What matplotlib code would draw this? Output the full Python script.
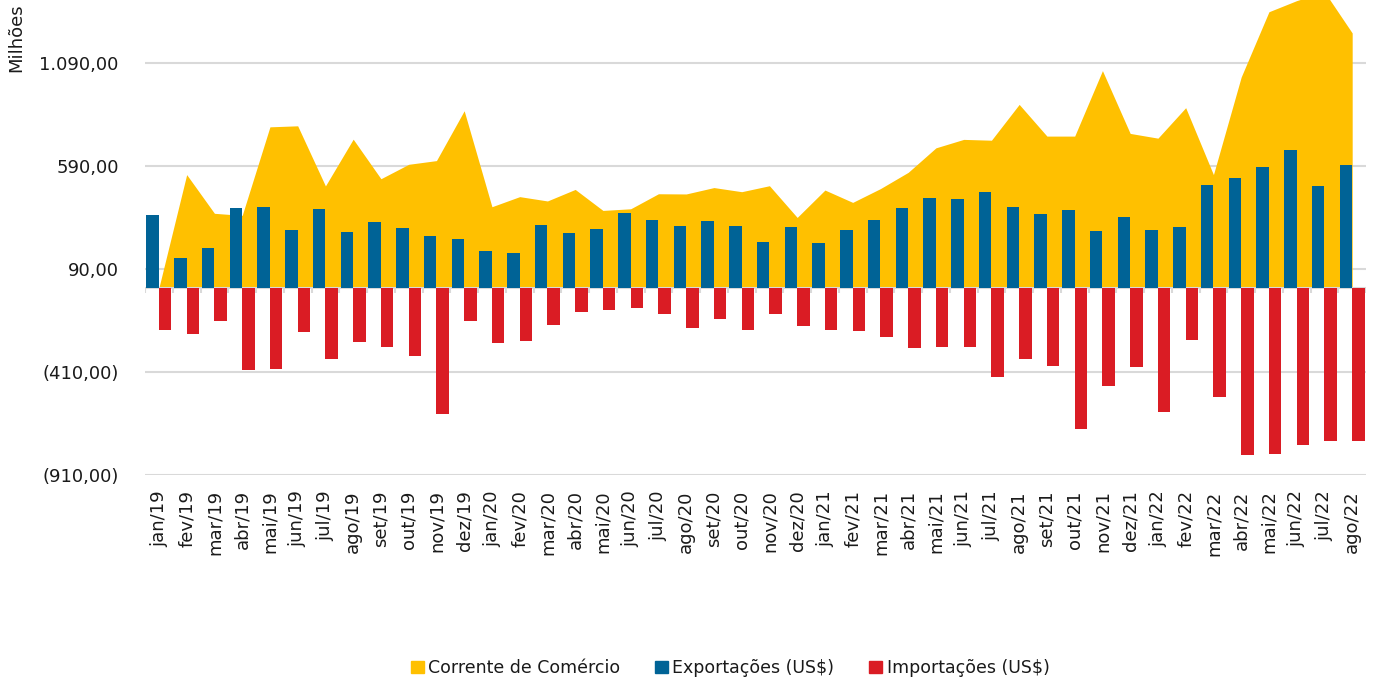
import matplotlib
matplotlib.use("Agg")
import matplotlib.pyplot as plt
import numpy as np
from matplotlib.ticker import FuncFormatter
from matplotlib.patches import Patch

meses = ["jan/19", "fev/19", "mar/19", "abr/19", "mai/19", "jun/19", "jul/19", "ago/19",
         "set/19", "out/19", "nov/19", "dez/19",
         "jan/20", "fev/20", "mar/20", "abr/20", "mai/20", "jun/20", "jul/20", "ago/20",
         "set/20", "out/20", "nov/20", "dez/20",
         "jan/21", "fev/21", "mar/21", "abr/21", "mai/21", "jun/21", "jul/21", "ago/21",
         "set/21", "out/21", "nov/21", "dez/21",
         "jan/22", "fev/22", "mar/22", "abr/22", "mai/22", "jun/22", "jul/22", "ago/22"]

# valores em milhoes de US$
exportacoes = [352, 143, 192, 385, 393, 281, 383, 271, 318, 291, 252, 235,
               179, 166, 304, 263, 284, 364, 328, 299, 323, 299, 222, 296,
               216, 279, 330, 388, 437, 432, 464, 391, 359, 375, 274, 343,
               279, 296, 499, 533, 588, 667, 494, 598]

importacoes = [-204, -224, -160, -402, -397, -217, -345, -264, -287, -332, -613, -163,
               -270, -261, -181, -118, -107, -100, -129, -194, -150, -204, -126, -186,
               -206, -209, -238, -295, -290, -288, -433, -348, -381, -686, -478, -386,
               -602, -256, -529, -811, -806, -764, -743, -746]

corrente = [0, 549, 361, 351, 781, 786, 494, 721, 529, 599, 617, 859,
            393, 442, 421, 477, 375, 383, 456, 455, 486, 466, 495, 341,
            474, 414, 481, 560, 679, 720, 716, 890, 736, 736, 1054, 749,
            726, 874, 549, 1023, 1340, 1394, 1437, 1237]

yticks = [1090, 590, 90, -410, -910]

AMARELO = "#FFC000"
AZUL = "#006396"
VERMELHO = "#DA1C24"
GRADE = "#D9D9D9"
TEXTO = "#1a1a1a"

plt.rcParams["font.family"] = ["DejaVu Sans"]

fig = plt.figure(figsize=(13.75, 6.82), dpi=100)
ax = fig.add_axes([0.1055, 0.3035, 0.888, 0.6965])

x = np.arange(len(meses))
w = 0.45

# grade
for v in yticks:
    ax.axhline(v, color=GRADE, lw=1.5, zorder=0)

ax.fill_between(x, 0, corrente, color=AMARELO, lw=0, zorder=1)
ax.bar(x - w / 2, exportacoes, width=w, color=AZUL, zorder=2)
ax.bar(x + w / 2, importacoes, width=w, color=VERMELHO, zorder=2)

# eixo no zero com marcas entre categorias
ax.axhline(0, color=GRADE, lw=1.5, zorder=1.5)
ax.vlines(np.arange(-0.5, len(meses)), -26, 0, color=GRADE, lw=1.5, zorder=1.5)

ax.set_xlim(-0.5, len(meses) - 0.5)
ax.set_ylim(-910, 1397)

def fmt(v, pos):
    s = f"{abs(v):,.2f}".replace(",", "X").replace(".", ",").replace("X", ".")
    return f"({s})" if v < 0 else s

ax.set_yticks(yticks)
ax.yaxis.set_major_formatter(FuncFormatter(fmt))
ax.set_xticks(x)
ax.set_xticklabels(meses, rotation=90, va="top", ha="center")
ax.tick_params(axis="y", length=0, pad=19, labelsize=13, labelcolor=TEXTO)
ax.tick_params(axis="x", length=0, pad=11, labelsize=13, labelcolor=TEXTO)

for s in ax.spines.values():
    s.set_visible(False)

fig.text(0.0116, 1 - 38 / 682, "Milhões", rotation=90, ha="center", va="center",
         fontsize=13, color=TEXTO)

handles = [Patch(color=AMARELO, label="Corrente de Comércio"),
           Patch(color=AZUL, label="Exportações (US$)"),
           Patch(color=VERMELHO, label="Importações (US$)")]
fig.legend(handles=handles, loc="center", bbox_to_anchor=(0.531, 1 - 668 / 682),
           ncol=3, frameon=False, fontsize=12.5, handlelength=0.75, handleheight=0.75,
           handletextpad=0.25, columnspacing=2.0, labelcolor=TEXTO)

fig.savefig("out.png", dpi=100)
